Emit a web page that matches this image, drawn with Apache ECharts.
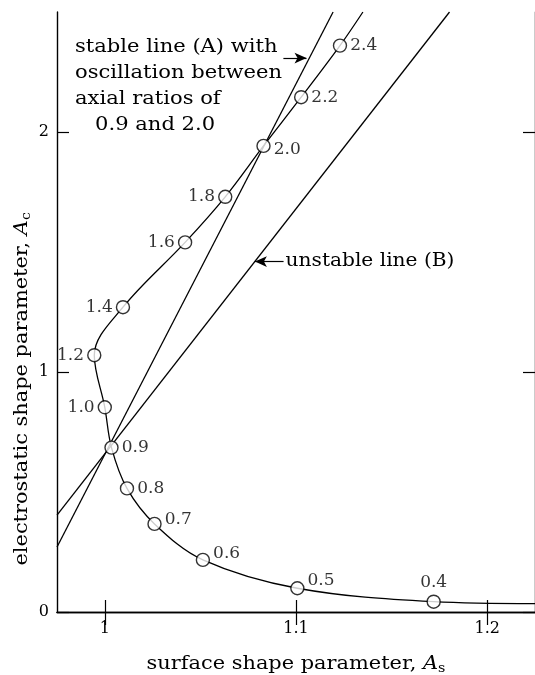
<!DOCTYPE html>
<html>
<head>
<meta charset="utf-8">
<script src="https://cdn.jsdelivr.net/npm/echarts@6/dist/echarts.min.js"></script>
<style>
  html, body { margin: 0; padding: 0; background: #fff; }
  #chart { width: 535px; height: 675px; }
</style>
</head>
<body>
<div id="chart"></div>
<script>
// Axial ratios marked along the shape curve
const ratioLabels = ['0.4', '0.5', '0.6', '0.7', '0.8', '0.9', '1.0', '1.2', '1.4', '1.6', '1.8', '2.0', '2.2', '2.4'];
// Surface shape parameter A_s at each marked ratio
const surfaceParam = [1.172, 1.1007, 1.0513, 1.026, 1.0116, 1.0035, 1.0, 0.9945, 1.0095, 1.042, 1.063, 1.083, 1.1027, 1.123];
// Electrostatic shape parameter A_c at each marked ratio
const electroParam = [0.043, 0.099, 0.217, 0.367, 0.515, 0.685, 0.853, 1.07, 1.27, 1.540, 1.730, 1.942, 2.145, 2.36];

// Where the curve runs off the frame at either end
const curveTail = [1.225, 0.035];
const curveHead = [1.135, 2.5];

// Straight lines (two end points each)
const stableLineA = [[0.975, 0.271], [1.1194, 2.5]];
const unstableLineB = [[0.975, 0.404], [1.1803, 2.5]];

// Axis ranges and ticks
const xRange = [0.975, 1.225];
const yRange = [0, 2.5];
const xTicks = [1, 1.1, 1.2];
const yTicks = [0, 1, 2];

const FONT = 'DejaVu Serif';
const INK = '#000';

// label placement for each marked ratio
const labelSide = {
  '0.4': 'top', '0.5': 'right', '0.6': 'right', '0.7': 'right', '0.8': 'right',
  '0.9': 'right', '1.0': 'left', '1.2': 'left', '1.4': 'left', '1.6': 'left',
  '1.8': 'left', '2.0': 'right', '2.2': 'right', '2.4': 'right'
};
const labelNudge = {
  '0.5': [0, -8], '0.6': [0, -6], '0.7': [0, -4], '2.0': [0, 4]
};

const markedPoints = ratioLabels.map((r, i) => [surfaceParam[i], electroParam[i], r]);
const curveData = [curveTail]
  .concat(ratioLabels.map((r, i) => [surfaceParam[i], electroParam[i]]))
  .concat([curveHead]);

const chart = echarts.init(document.getElementById('chart'), null, { renderer: 'canvas' });

const axisLine = { show: true, lineStyle: { color: INK, width: 1.4 } };
const textStyle = (size) => ({ fill: INK, font: size + 'px "DejaVu Serif"' });

const option = {
  animation: false,
  backgroundColor: '#fff',
  grid: { left: 57, right: -4, top: 12, bottom: 63, containLabel: false },
  xAxis: [
    {
      type: 'value', min: xRange[0], max: xRange[1], position: 'bottom',
      axisLine: axisLine,
      axisTick: { show: true, inside: true, length: 12, customValues: xTicks, lineStyle: { color: INK, width: 1.2 } },
      axisLabel: { customValues: xTicks, color: INK, fontFamily: FONT, fontSize: 16, margin: 9,
        formatter: v => String(Math.round(v * 10) / 10) },
      splitLine: { show: false }
    },
    {
      type: 'value', min: xRange[0], max: xRange[1], position: 'top',
      axisLine: axisLine,
      axisTick: { show: true, inside: true, length: 13, customValues: xTicks, lineStyle: { color: INK, width: 1.2 } },
      axisLabel: { show: false },
      splitLine: { show: false }
    }
  ],
  yAxis: [
    {
      type: 'value', min: yRange[0], max: yRange[1], position: 'left',
      axisLine: axisLine,
      axisTick: { show: true, inside: true, length: 12, customValues: yTicks, lineStyle: { color: INK, width: 1.2 } },
      axisLabel: { customValues: yTicks, color: INK, fontFamily: FONT, fontSize: 16, margin: 8 },
      splitLine: { show: false }
    },
    {
      type: 'value', min: yRange[0], max: yRange[1], position: 'right',
      axisLine: axisLine,
      axisTick: { show: true, inside: true, length: 12, customValues: yTicks, lineStyle: { color: INK, width: 1.2 } },
      axisLabel: { show: false },
      splitLine: { show: false }
    }
  ],
  series: [
    {
      name: 'stable line (A)', type: 'line', data: stableLineA, symbol: 'none',
      lineStyle: { color: INK, width: 1.3 }, clip: true,
      markLine: {
        silent: true, symbol: ['none', 'arrow'], symbolSize: [8, 12],
        lineStyle: { color: INK, width: 1.2, type: 'solid' },
        label: { show: false },
        data: [[{ coord: [1.0934, 2.308] }, { coord: [1.1055, 2.308] }]]
      }
    },
    {
      name: 'unstable line (B)', type: 'line', data: unstableLineB, symbol: 'none',
      lineStyle: { color: INK, width: 1.3 }, clip: true,
      markLine: {
        silent: true, symbol: ['arrow', 'none'], symbolSize: [8, 12],
        lineStyle: { color: INK, width: 1.2, type: 'solid' },
        label: { show: false },
        data: [[{ coord: [1.0785, 1.46] }, { coord: [1.0935, 1.46] }]]
      }
    },
    {
      name: 'shape curve', type: 'line', data: curveData, symbol: 'none', smooth: 0.35,
      lineStyle: { color: INK, width: 1.3 }, clip: true
    },
    {
      name: 'axial ratio', type: 'scatter', symbol: 'circle', symbolSize: 13,
      itemStyle: { color: '#fff', borderColor: INK, borderWidth: 1.4 },
      z: 5,
      label: {
        show: true, color: INK, fontFamily: FONT, fontSize: 17, distance: 3,
        formatter: p => p.value[2]
      },
      data: markedPoints.map(d => ({
        value: d,
        label: { position: labelSide[d[2]] || 'right', offset: labelNudge[d[2]] || [0, 0] }
      }))
    }
  ]
};

chart.setOption(option);

// Text annotations and axis titles
const toPx = (pt) => chart.convertToPixel({ xAxisIndex: 0, yAxisIndex: 0 }, pt);
const arrowB = toPx([1.0935, 1.46]);
const xMid = toPx([(xRange[0] + xRange[1]) / 2, 0]);
const yMid = toPx([xRange[0], 0.93]);

chart.setOption({
  graphic: [
    {
      type: 'text', x: 75, y: 34, scaleX: 1.17,
      style: Object.assign(textStyle(18), {
        text: 'stable line (A) with\noscillation between\naxial ratios of\n   0.9 and 2.0',
        lineHeight: 26
      })
    },
    {
      type: 'text', x: arrowB[0] + 2, y: arrowB[1], scaleX: 1.12,
      style: Object.assign(textStyle(18), { text: 'unstable line (B)', verticalAlign: 'middle' })
    },
    {
      type: 'text', x: xMid[0], y: 664, scaleX: 1.1,
      style: Object.assign(textStyle(19), {
        text: 'surface shape parameter, {i|A}{s|s}', align: 'center', verticalAlign: 'middle',
        rich: { i: { fontStyle: 'italic', fontFamily: FONT, fontSize: 19 },
                s: { fontFamily: FONT, fontSize: 13, padding: [9, 0, 0, 0] } }
      })
    },
    {
      type: 'text', x: 22, y: yMid[1], rotation: Math.PI / 2, scaleX: 1.1,
      style: Object.assign(textStyle(19), {
        text: 'electrostatic shape parameter, {i|A}{s|c}', align: 'center', verticalAlign: 'middle',
        rich: { i: { fontStyle: 'italic', fontFamily: FONT, fontSize: 19 },
                s: { fontFamily: FONT, fontSize: 13, padding: [9, 0, 0, 0] } }
      })
    }
  ]
});
</script>
</body>
</html>
